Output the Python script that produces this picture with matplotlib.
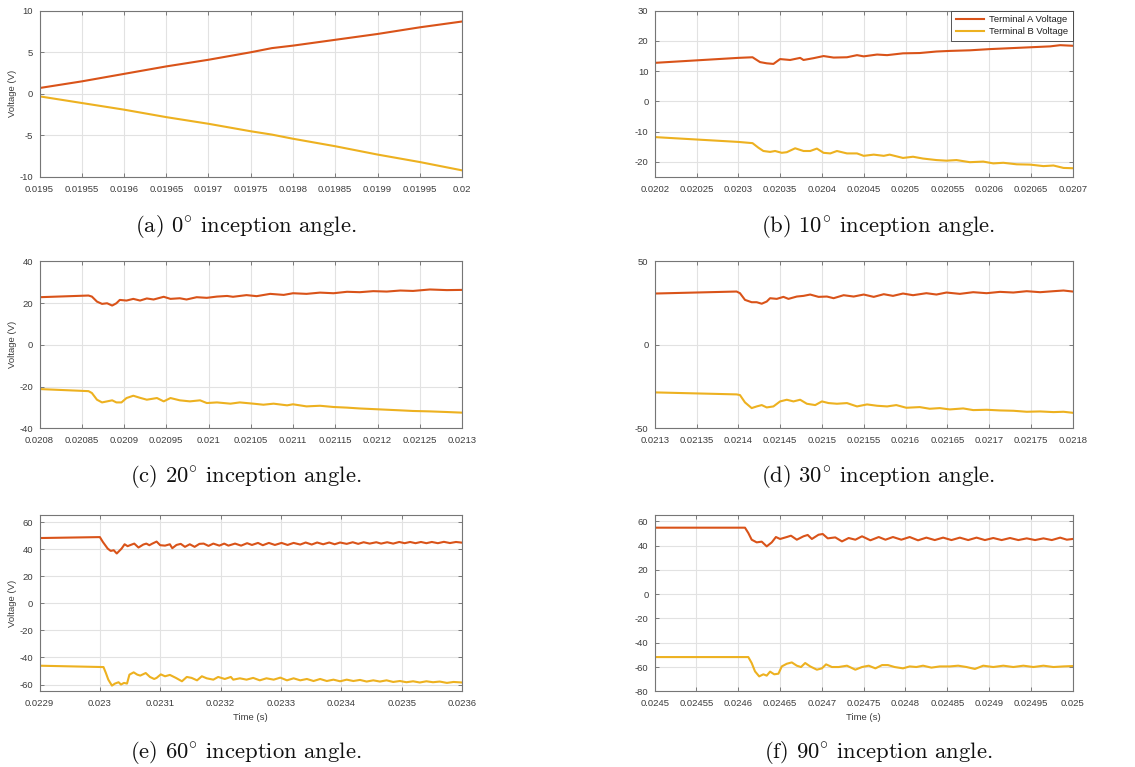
import matplotlib
matplotlib.use("Agg")
import matplotlib.pyplot as plt

plt.rcParams["font.family"] = ["Liberation Sans", "DejaVu Sans"]
plt.rcParams["mathtext.fontset"] = "cm"
plt.rcParams["axes.unicode_minus"] = False

COL_A = "#D95319"
COL_B = "#EDB120"

# ---------------- (a) 0 deg ----------------
t_a = [0.0195, 0.01955, 0.0196, 0.01965, 0.0197, 0.01975, 0.019775, 0.0198,
       0.01985, 0.0199, 0.01995, 0.02]
va_a = [0.7, 1.5, 2.4, 3.3, 4.1, 5.0, 5.5, 5.8, 6.5, 7.2, 8.0, 8.7]
vb_a = [-0.3, -1.1, -1.9, -2.8, -3.6, -4.5, -4.9, -5.4, -6.3, -7.3, -8.2, -9.2]

# ---------------- (b) 10 deg ----------------
tA_b = [0.020200, 0.020300, 0.020317, 0.020326, 0.020334, 0.020342, 0.020350,
        0.020362, 0.020374, 0.020378, 0.020390, 0.020402, 0.020414, 0.020430,
        0.020442, 0.020450, 0.020466, 0.020478, 0.020497, 0.020517, 0.020537,
        0.020553, 0.020577, 0.020601, 0.020625, 0.020649, 0.020673, 0.020685,
        0.020700]
vA_b = [12.75, 14.4, 14.6, 13.0, 12.6, 12.4, 14.0, 13.7, 14.4, 13.7, 14.3, 15.0,
        14.5, 14.6, 15.3, 14.9, 15.5, 15.3, 15.9, 16.0, 16.5, 16.7, 16.9, 17.3,
        17.6, 17.9, 18.2, 18.6, 18.4]
tB_b = [0.020200, 0.020300, 0.020317, 0.020324, 0.020330, 0.020338, 0.020344,
        0.020352, 0.020358, 0.020368, 0.020378, 0.020386, 0.020394, 0.020402,
        0.020410, 0.020418, 0.020430, 0.020442, 0.020450, 0.020462, 0.020474,
        0.020481, 0.020497, 0.020509, 0.020521, 0.020537, 0.020549, 0.020561,
        0.020577, 0.020593, 0.020605, 0.020617, 0.020633, 0.020649, 0.020665,
        0.020677, 0.020689, 0.020700]
vB_b = [-11.8, -13.4, -13.8, -15.3, -16.4, -16.7, -16.4, -17.0, -16.8, -15.5,
        -16.4, -16.4, -15.6, -17.0, -17.2, -16.4, -17.2, -17.2, -18.0, -17.6,
        -18.0, -17.6, -18.7, -18.3, -18.9, -19.4, -19.6, -19.4, -20.1, -19.9,
        -20.5, -20.3, -20.8, -20.9, -21.4, -21.2, -22.0, -22.1]

# ---------------- (c) 20 deg ----------------
tA_c = [0.020800, 0.020858, 0.020862, 0.020868, 0.020874, 0.020880, 0.020886,
        0.020891, 0.020895, 0.020903, 0.020911, 0.020919, 0.020927, 0.020935,
        0.020947, 0.020955, 0.020966, 0.020974, 0.020986, 0.020998, 0.021010,
        0.021022, 0.021029, 0.021045, 0.021057, 0.021073, 0.021089, 0.021100,
        0.021116, 0.021132, 0.021148, 0.021164, 0.021179, 0.021195, 0.021211,
        0.021227, 0.021242, 0.021262, 0.021282, 0.021300]
vA_c = [22.8, 23.6, 23.1, 20.7, 19.6, 19.9, 18.8, 19.9, 21.5, 21.2, 22.0, 21.2,
        22.2, 21.7, 23.0, 22.0, 22.3, 21.7, 22.8, 22.5, 23.1, 23.4, 23.0, 23.8,
        23.3, 24.4, 23.9, 24.7, 24.4, 25.0, 24.7, 25.4, 25.2, 25.7, 25.5, 26.0,
        25.8, 26.5, 26.2, 26.3]
tB_c = [0.020800, 0.020858, 0.020862, 0.020868, 0.020874, 0.020880, 0.020886,
        0.020891, 0.020897, 0.020903, 0.020911, 0.020919, 0.020927, 0.020939,
        0.020947, 0.020955, 0.020966, 0.020978, 0.020990, 0.020998, 0.021010,
        0.021026, 0.021037, 0.021053, 0.021065, 0.021077, 0.021093, 0.021100,
        0.021116, 0.021132, 0.021148, 0.021164, 0.021179, 0.021195, 0.021211,
        0.021227, 0.021242, 0.021262, 0.021282, 0.021300]
vB_c = [-21.2, -22.2, -23.1, -26.3, -27.6, -27.1, -26.6, -27.6, -27.6, -25.5,
        -24.4, -25.4, -26.3, -25.5, -27.1, -25.5, -26.6, -27.1, -26.6, -27.9,
        -27.6, -28.2, -27.6, -28.2, -28.7, -28.2, -29.0, -28.5, -29.5, -29.2,
        -29.8, -30.1, -30.5, -30.8, -31.1, -31.4, -31.7, -31.9, -32.2, -32.5]

# ---------------- (d) 30 deg ----------------
tA_d = [0.021300, 0.021398, 0.021402, 0.021408, 0.021416, 0.021422, 0.021428,
        0.021434, 0.021438, 0.021446, 0.021454, 0.021460, 0.021470, 0.021478,
        0.021486, 0.021496, 0.021506, 0.021514, 0.021526, 0.021538, 0.021550,
        0.021562, 0.021574, 0.021585, 0.021597, 0.021609, 0.021625, 0.021637,
        0.021649, 0.021665, 0.021681, 0.021697, 0.021713, 0.021729, 0.021745,
        0.021761, 0.021777, 0.021789, 0.021800]
vA_d = [30.7, 31.9, 30.9, 26.9, 25.5, 25.5, 24.6, 25.9, 27.9, 27.5, 28.7, 27.5,
        28.9, 29.3, 30.1, 28.7, 28.9, 27.9, 29.7, 28.9, 30.1, 28.7, 30.3, 29.3,
        30.7, 29.7, 30.9, 30.1, 31.3, 30.5, 31.5, 30.9, 31.7, 31.3, 32.1, 31.5,
        32.1, 32.5, 31.9]
tB_d = [0.021300, 0.021398, 0.021402, 0.021408, 0.021416, 0.021422, 0.021428,
        0.021434, 0.021442, 0.021450, 0.021458, 0.021466, 0.021474, 0.021482,
        0.021492, 0.021500, 0.021508, 0.021518, 0.021530, 0.021542, 0.021554,
        0.021566, 0.021578, 0.021589, 0.021601, 0.021617, 0.021629, 0.021641,
        0.021653, 0.021669, 0.021681, 0.021697, 0.021713, 0.021729, 0.021745,
        0.021761, 0.021777, 0.021789, 0.021800]
vB_d = [-28.5, -29.7, -30.1, -34.5, -37.9, -36.9, -36.1, -37.5, -36.9, -33.9,
        -32.9, -33.9, -32.9, -35.3, -36.1, -33.9, -34.9, -35.3, -34.9, -36.9,
        -35.7, -36.5, -36.9, -36.1, -37.7, -37.3, -38.3, -37.9, -38.7, -38.1,
        -39.1, -38.9, -39.3, -39.5, -40.1, -39.9, -40.3, -40.1, -40.7]

# ---------------- (e) 60 deg ----------------
tA_e = [0.022900, 0.023000, 0.023005, 0.023013, 0.023018, 0.023023, 0.023028,
        0.023036, 0.023041, 0.023046, 0.023051, 0.023057, 0.023064, 0.023072,
        0.023077, 0.023082, 0.023087, 0.023094, 0.023100, 0.023108, 0.023116,
        0.023120, 0.023127, 0.023134, 0.023141, 0.023149, 0.023157, 0.023165,
        0.023172, 0.023180, 0.023188, 0.023198, 0.023206, 0.023213, 0.023224,
        0.023234, 0.023244, 0.023252, 0.023262, 0.023270, 0.023280, 0.023290,
        0.023301, 0.023311, 0.023321, 0.023332, 0.023341, 0.023351, 0.023360,
        0.023370, 0.023380, 0.023389, 0.023398, 0.023409, 0.023419, 0.023428,
        0.023437, 0.023447, 0.023458, 0.023466, 0.023476, 0.023486, 0.023496,
        0.023505, 0.023514, 0.023523, 0.023532, 0.023541, 0.023550, 0.023560,
        0.023570, 0.023580, 0.023590, 0.023600]
vA_e = [48.2, 48.9, 45.3, 40.4, 38.7, 39.2, 36.8, 40.4, 43.6, 42.2, 43.1, 44.1,
        41.2, 43.4, 44.1, 42.9, 44.1, 45.6, 42.9, 42.6, 43.6, 40.7, 43.1, 43.9,
        41.7, 43.6, 41.7, 43.9, 44.1, 42.4, 44.1, 42.6, 44.1, 42.6, 44.1, 42.6,
        44.4, 43.1, 44.6, 42.9, 44.6, 43.1, 44.6, 43.1, 44.6, 43.4, 44.9, 43.4,
        44.9, 43.6, 44.9, 43.6, 44.9, 43.9, 45.1, 43.9, 45.1, 44.1, 45.1, 44.1,
        45.1, 44.1, 45.3, 44.4, 45.3, 44.4, 45.3, 44.4, 45.3, 44.4, 45.4, 44.5,
        45.3, 44.8]
tB_e = [0.022900, 0.023006, 0.023010, 0.023014, 0.023020, 0.023025, 0.023031,
        0.023035, 0.023040, 0.023045, 0.023049, 0.023056, 0.023062, 0.023067,
        0.023076, 0.023083, 0.023090, 0.023094, 0.023101, 0.023108, 0.023116,
        0.023126, 0.023136, 0.023144, 0.023152, 0.023161, 0.023169, 0.023177,
        0.023188, 0.023196, 0.023207, 0.023217, 0.023221, 0.023232, 0.023243,
        0.023254, 0.023265, 0.023276, 0.023288, 0.023299, 0.023310, 0.023321,
        0.023332, 0.023343, 0.023354, 0.023365, 0.023376, 0.023387, 0.023398,
        0.023409, 0.023420, 0.023431, 0.023442, 0.023453, 0.023464, 0.023475,
        0.023486, 0.023497, 0.023508, 0.023519, 0.023530, 0.023541, 0.023552,
        0.023563, 0.023575, 0.023586, 0.023600]
vB_e = [-46.1, -47.1, -51.5, -56.4, -60.8, -59.3, -58.3, -60.0, -58.8, -59.3,
        -52.7, -51.0, -52.7, -53.4, -51.5, -54.4, -55.9, -55.1, -52.5, -53.9,
        -52.9, -55.1, -57.6, -54.4, -55.1, -56.9, -53.9, -55.4, -56.4, -54.4,
        -55.9, -54.4, -56.4, -55.4, -56.4, -55.1, -56.9, -55.4, -56.4, -54.9,
        -56.9, -55.4, -56.9, -55.9, -57.4, -55.9, -57.4, -56.4, -57.6, -56.4,
        -57.4, -56.6, -57.8, -56.9, -57.8, -56.9, -58.1, -57.4, -58.3, -57.6,
        -58.5, -57.6, -58.3, -57.8, -58.8, -58.1, -58.5]

# ---------------- (f) 90 deg ----------------
tA_f = [0.024500, 0.024608, 0.024612, 0.024616, 0.024622, 0.024628, 0.024634,
        0.024640, 0.024645, 0.024650, 0.024658, 0.024663, 0.024670, 0.024678,
        0.024683, 0.024688, 0.024696, 0.024701, 0.024707, 0.024716, 0.024724,
        0.024732, 0.024740, 0.024748, 0.024758, 0.024768, 0.024776, 0.024785,
        0.024795, 0.024805, 0.024815, 0.024825, 0.024835, 0.024845, 0.024855,
        0.024865, 0.024875, 0.024885, 0.024895, 0.024905, 0.024915, 0.024925,
        0.024935, 0.024945, 0.024955, 0.024965, 0.024975, 0.024985, 0.024993,
        0.025000]
vA_f = [54.8, 54.8, 50.4, 44.9, 42.7, 43.3, 39.4, 42.7, 47.1, 45.5, 47.1, 48.2,
        44.9, 47.7, 48.8, 45.5, 49.0, 49.6, 46.0, 46.8, 43.5, 46.3, 44.9, 47.7,
        44.4, 47.1, 44.9, 47.1, 44.9, 47.1, 44.4, 46.6, 44.6, 46.6, 44.6, 46.6,
        44.6, 46.6, 44.6, 46.3, 44.6, 46.3, 44.6, 46.0, 44.6, 46.0, 44.6, 46.6,
        44.9, 45.5]
tB_f = [0.024500, 0.024612, 0.024616, 0.024620, 0.024625, 0.024630, 0.024634,
        0.024638, 0.024643, 0.024648, 0.024652, 0.024658, 0.024664, 0.024670,
        0.024675, 0.024680, 0.024686, 0.024694, 0.024700, 0.024705, 0.024712,
        0.024720, 0.024730, 0.024740, 0.024748, 0.024756, 0.024764, 0.024772,
        0.024779, 0.024787, 0.024797, 0.024805, 0.024813, 0.024821, 0.024831,
        0.024841, 0.024853, 0.024863, 0.024873, 0.024883, 0.024893, 0.024905,
        0.024917, 0.024929, 0.024941, 0.024953, 0.024965, 0.024977, 0.024989,
        0.025000]
vB_f = [-51.8, -51.8, -56.7, -63.6, -67.7, -66.0, -67.1, -63.8, -66.0, -65.5,
        -59.5, -57.3, -56.2, -58.9, -60.0, -56.7, -59.5, -62.2, -61.1, -57.8,
        -60.0, -60.0, -58.9, -62.2, -60.0, -58.9, -61.1, -58.4, -58.4, -60.0,
        -61.1, -59.5, -60.0, -58.9, -60.5, -59.5, -59.5, -58.9, -60.0, -61.6,
        -58.9, -60.0, -58.9, -60.0, -58.9, -60.0, -58.9, -60.0, -59.5, -59.2]

# ---------------- axes settings ----------------
xticks_a = ["0.0195", "0.01955", "0.0196", "0.01965", "0.0197", "0.01975",
            "0.0198", "0.01985", "0.0199", "0.01995", "0.02"]
xticks_b = ["0.0202", "0.02025", "0.0203", "0.02035", "0.0204", "0.02045",
            "0.0205", "0.02055", "0.0206", "0.02065", "0.0207"]
xticks_c = ["0.0208", "0.02085", "0.0209", "0.02095", "0.021", "0.02105",
            "0.0211", "0.02115", "0.0212", "0.02125", "0.0213"]
xticks_d = ["0.0213", "0.02135", "0.0214", "0.02145", "0.0215", "0.02155",
            "0.0216", "0.02165", "0.0217", "0.02175", "0.0218"]
xticks_e = ["0.0229", "0.023", "0.0231", "0.0232", "0.0233", "0.0234",
            "0.0235", "0.0236"]
xticks_f = ["0.0245", "0.02455", "0.0246", "0.02465", "0.0247", "0.02475",
            "0.0248", "0.02485", "0.0249", "0.02495", "0.025"]

yticks_a = [-10, -5, 0, 5, 10]
yticks_b = [-20, -10, 0, 10, 20, 30]
yticks_c = [-40, -20, 0, 20, 40]
yticks_d = [-50, 0, 50]
yticks_e = [-60, -40, -20, 0, 20, 40, 60]
yticks_f = [-80, -60, -40, -20, 0, 20, 40, 60]

ylims = {"a": (-10, 10), "b": (-25, 30), "c": (-40, 40), "d": (-50, 50),
         "e": (-65, 65), "f": (-80, 65)}

captions = {"a": r"(a) 0$^{\circ}$ inception angle.",
            "b": r"(b) 10$^{\circ}$ inception angle.",
            "c": r"(c) 20$^{\circ}$ inception angle.",
            "d": r"(d) 30$^{\circ}$ inception angle.",
            "e": r"(e) 60$^{\circ}$ inception angle.",
            "f": r"(f) 90$^{\circ}$ inception angle."}

panels = {
    "a": (t_a, va_a, t_a, vb_a, xticks_a, yticks_a),
    "b": (tA_b, vA_b, tB_b, vB_b, xticks_b, yticks_b),
    "c": (tA_c, vA_c, tB_c, vB_c, xticks_c, yticks_c),
    "d": (tA_d, vA_d, tB_d, vB_d, xticks_d, yticks_d),
    "e": (tA_e, vA_e, tB_e, vB_e, xticks_e, yticks_e),
    "f": (tA_f, vA_f, tB_f, vB_f, xticks_f, yticks_f),
}

W, H = 1135, 767
fig = plt.figure(figsize=(W / 100, H / 100), dpi=100)

# pixel boxes: left, top, right, bottom
boxes = {
    "a": (39.5, 10.7, 462, 177), "b": (654.7, 10.7, 1072.7, 177),
    "c": (39.5, 261.3, 462, 428.3), "d": (654.7, 261.3, 1072.7, 428.3),
    "e": (39.5, 515.3, 462, 691.3), "f": (654.7, 515.3, 1072.7, 691.3),
}
cap_pos = {"a": (246, 226), "b": (878, 226), "c": (246, 476), "d": (878, 476),
           "e": (246, 752), "f": (878, 752)}

TXT = "#3c3c3c"
FS = 6.8

for key, (tA, vA, tB, vB, xt, yt) in panels.items():
    l, t, r, b = boxes[key]
    ax = fig.add_axes([l / W, 1 - b / H, (r - l) / W, (b - t) / H])
    ax.plot(tA, vA, color=COL_A, lw=1.5, label="Terminal A Voltage")
    ax.plot(tB, vB, color=COL_B, lw=1.5, label="Terminal B Voltage")
    xvals = [float(s) for s in xt]
    ax.set_xlim(xvals[0], xvals[-1])
    ax.set_ylim(*ylims[key])
    ax.set_xticks(xvals)
    ax.set_xticklabels(xt)
    ax.set_yticks(yt)
    ax.set_yticklabels([str(v) for v in yt])
    ax.grid(True, color="#e2e2e2", lw=0.8)
    ax.set_axisbelow(True)
    ax.tick_params(direction="in", length=3, width=0.6, colors="#6a6a6a",
                   labelcolor=TXT, labelsize=FS, top=True, right=True)
    ax.tick_params(axis="x", pad=5.5)
    ax.tick_params(axis="y", pad=4.5)
    for sp in ax.spines.values():
        sp.set_color("#767676")
        sp.set_linewidth(0.8)
    if key in ("a", "c", "e"):
        ax.set_ylabel("Voltage (V)", fontsize=FS, color=TXT, labelpad=2)
    if key in ("e", "f"):
        ax.set_xlabel("Time (s)", fontsize=FS, color=TXT, labelpad=4)
    if key == "b":
        leg = ax.legend(loc="upper right", borderaxespad=0, fancybox=False,
                        fontsize=FS, handlelength=3.0, borderpad=0.5,
                        labelspacing=0.3, handletextpad=0.5, framealpha=1)
        leg.get_frame().set_edgecolor("#3a3a3a")
        leg.get_frame().set_linewidth(0.6)
        for txt in leg.get_texts():
            txt.set_color("#202020")
    cx, cy = cap_pos[key]
    fig.text(cx / W, 1 - cy / H, captions[key], ha="center", va="center",
             fontsize=16.3, family="cmr10", color="#111111")

fig.savefig("out.png", dpi=100)
